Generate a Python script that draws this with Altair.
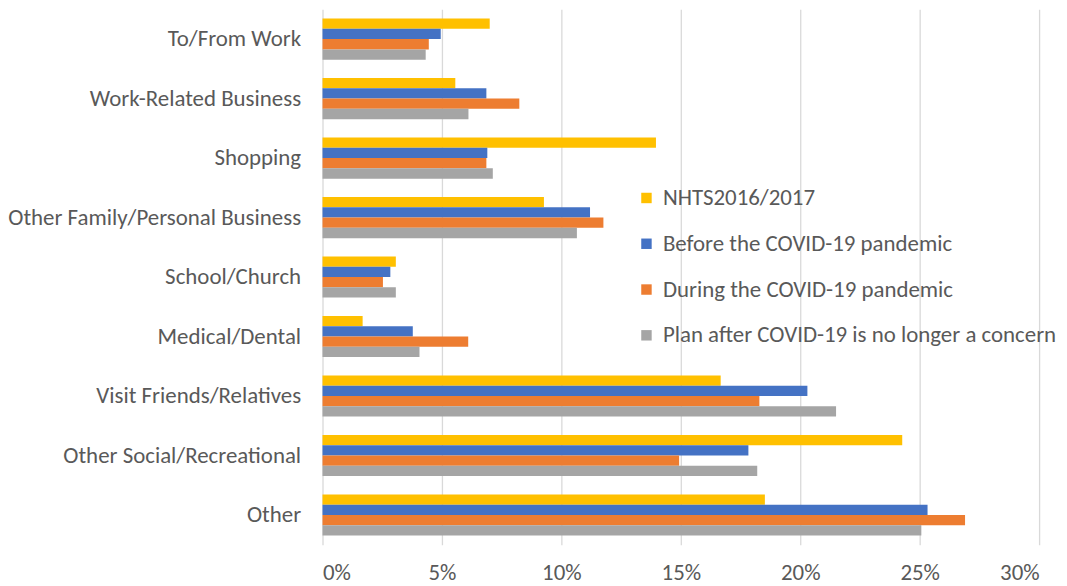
import altair as alt
import pandas as pd

categories = ["To/From Work", "Work-Related Business", "Shopping",
              "Other Family/Personal Business", "School/Church", "Medical/Dental",
              "Visit Friends/Relatives", "Other Social/Recreational", "Other"]
series = ["NHTS2016/2017", "Before the COVID-19 pandemic",
          "During the COVID-19 pandemic", "Plan after COVID-19 is no longer a concern"]
nhts = [7.0, 5.56, 13.96, 9.27, 3.07, 1.68, 16.67, 24.27, 18.52]
before = [4.95, 6.86, 6.90, 11.20, 2.84, 3.78, 20.30, 17.83, 25.33]
during = [4.45, 8.24, 6.86, 11.76, 2.53, 6.10, 18.29, 14.93, 26.90]
plan = [4.32, 6.11, 7.13, 10.65, 3.07, 4.06, 21.50, 18.20, 25.07]
colors = ["#FFC000", "#4472C4", "#ED7D31", "#A5A5A5"]

rows = []
for s, vals in zip(series, [nhts, before, during, plan]):
    for c, v in zip(categories, vals):
        rows.append({"category": c, "series": s, "value": v / 100})
df = pd.DataFrame(rows)

FONT = "Carlito, Lato, sans-serif"
TXT = "#595959"
FS = 23

chart = alt.Chart(df).mark_bar().encode(
    y=alt.Y("category:N", sort=categories,
            scale=alt.Scale(paddingInner=0.31, paddingOuter=0.155),
            axis=alt.Axis(title=None, domain=False, ticks=False, grid=False,
                          labelFontSize=FS, labelColor=TXT, labelFont=FONT,
                          labelPadding=22, labelLimit=400)),
    yOffset=alt.YOffset("series:N", sort=series, scale=alt.Scale(paddingInner=0, paddingOuter=0)),
    x=alt.X("value:Q", scale=alt.Scale(domain=[0, 0.30], nice=False),
            axis=alt.Axis(title=None, format=".0%", values=[0, 0.05, 0.10, 0.15, 0.20, 0.25, 0.30],
                          domain=False, ticks=False, grid=True, gridColor="#D9D9D9",
                          gridWidth=1.3, labelFontSize=FS, labelColor=TXT, labelFont=FONT,
                          labelPadding=17)),
    color=alt.Color("series:N", sort=series,
                    scale=alt.Scale(domain=series, range=colors),
                    legend=alt.Legend(title=None, orient="none", legendX=314, legendY=178,
                                      symbolType="square", symbolSize=110,
                                      symbolStrokeWidth=0, labelFontSize=FS,
                                      labelColor=TXT, labelFont=FONT, rowPadding=22,
                                      labelOffset=5, labelLimit=600)),
).properties(
    width=720, height=538,
    autosize=alt.AutoSizeParams(type="none"),
    padding={"left": 316, "top": 0, "right": 20, "bottom": 40},
).configure_view(stroke=None)

chart.save("out.html", embed_options={"renderer": "svg", "actions": False})
